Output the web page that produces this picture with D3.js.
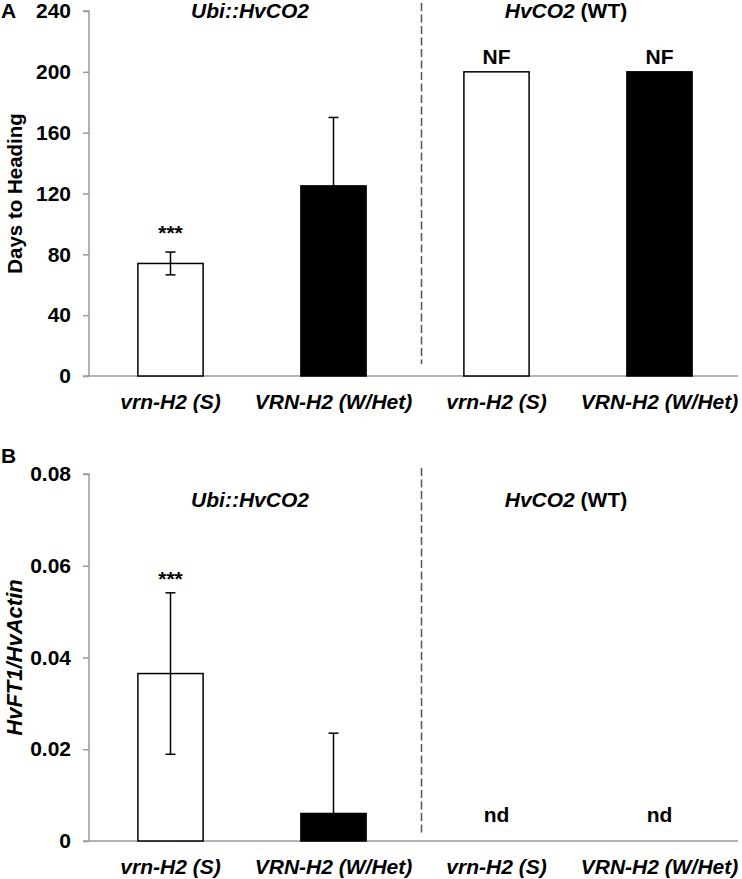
<!DOCTYPE html>
<html>
<head>
<meta charset="utf-8">
<script src="https://cdn.jsdelivr.net/npm/d3@7"></script>
<style>
  html, body { margin: 0; padding: 0; background: #fff; }
  svg { display: block; }
  text { font-family: Arial, "Liberation Sans", sans-serif; font-weight: bold; fill: #000; }
</style>
</head>
<body>
<svg id="chart" width="742" height="879"></svg>
<script>
// ---------- data ----------
const categories = ["vrn-H2 (S)", "VRN-H2 (W/Het)", "vrn-H2 (S)", "VRN-H2 (W/Het)"];
const barFills = ["white", "black", "white", "black"];
const groupTitles = ["Ubi::HvCO2", "HvCO2 (WT)"];

// Panel A: days to heading
const daysValues    = [74, 125, 200, 200];
const daysErrPlus   = [7.5, 45, 0, 0];
const daysErrMinus  = [7.5, 0, 0, 0];
const daysTicks     = [0, 40, 80, 120, 160, 200, 240];
const daysNotes     = ["***", "", "NF", "NF"];

// Panel B: HvFT1/HvActin expression
const ftValues      = [0.0365, 0.006, 0, 0];
const ftErrPlus     = [0.0176, 0.0175, 0, 0];
const ftErrMinus    = [0.0176, 0, 0, 0];
const ftTicks       = [0, 0.02, 0.04, 0.06, 0.08];
const ftNotes       = ["***", "", "nd", "nd"];

// ---------- drawing ----------
const svg = d3.select("#chart");
const FS = 21;
const axisColor = "#9a9a9a";

const x = d3.scaleBand().domain(d3.range(categories.length)).range([89, 741]).padding(0);
const barW = x.bandwidth() * 0.4;
const cx = i => x(i) + x.bandwidth() / 2;

function panel(cfg) {
  const g = svg.append("g");
  const y = d3.scaleLinear().domain(cfg.domain).range([cfg.bottom, cfg.top]);

  // y axis
  const yAxis = d3.axisLeft(y).tickValues(cfg.ticks).tickSize(6).tickPadding(12)
    .tickFormat(cfg.fmt);
  const ya = g.append("g").attr("transform", "translate(89,0)").call(yAxis);
  ya.attr("font-size", null).attr("font-family", null);
  ya.select(".domain").attr("stroke", axisColor).attr("stroke-width", 1.5)
    .attr("d", `M-6,${cfg.top}H0V${cfg.bottom}`);
  ya.selectAll(".tick line").attr("stroke", axisColor).attr("stroke-width", 1.5);
  ya.selectAll(".tick text").attr("font-size", FS).attr("font-weight", "bold")
    .attr("font-family", 'Arial, "Liberation Sans", sans-serif').attr("fill", "#000");

  // x axis line
  g.append("line").attr("x1", 83).attr("x2", 738)
    .attr("y1", cfg.bottom).attr("y2", cfg.bottom)
    .attr("stroke", axisColor).attr("stroke-width", 1.5);

  // divider
  g.append("line").attr("x1", 421.5).attr("x2", 421.5)
    .attr("y1", cfg.dashTop).attr("y2", cfg.dashBottom)
    .attr("stroke", "#555").attr("stroke-width", 1.5).attr("stroke-dasharray", "8,3.5");

  // bars
  g.selectAll("rect.bar").data(cfg.values).join("rect")
    .attr("class", "bar")
    .attr("x", (d, i) => cx(i) - barW / 2)
    .attr("width", barW)
    .attr("y", d => y(d))
    .attr("height", d => y(0) - y(d))
    .attr("fill", (d, i) => barFills[i])
    .attr("stroke", (d, i) => d > 0 ? "#000" : "none")
    .attr("stroke-width", 1.5);

  // error bars
  cfg.values.forEach((v, i) => {
    const hi = v + cfg.errPlus[i], lo = v - cfg.errMinus[i];
    if (cfg.errPlus[i] === 0 && cfg.errMinus[i] === 0) return;
    const eg = g.append("g").attr("stroke", "#000").attr("stroke-width", 1.5);
    eg.append("line").attr("x1", cx(i)).attr("x2", cx(i)).attr("y1", y(hi)).attr("y2", y(lo));
    if (cfg.errPlus[i] > 0)
      eg.append("line").attr("x1", cx(i) - 5).attr("x2", cx(i) + 5).attr("y1", y(hi)).attr("y2", y(hi));
    if (cfg.errMinus[i] > 0)
      eg.append("line").attr("x1", cx(i) - 5).attr("x2", cx(i) + 5).attr("y1", y(lo)).attr("y2", y(lo));
  });

  // annotations
  cfg.notes.forEach((n, i) => {
    if (!n) return;
    let yy;
    if (n === "***") yy = y(cfg.values[i] + cfg.errPlus[i]) - cfg.starGap;
    else if (n === "NF") yy = y(cfg.values[i]) - 8;
    else yy = cfg.bottom - 19;
    g.append("text").attr("x", cx(i)).attr("y", yy).attr("text-anchor", "middle")
      .attr("font-size", FS).text(n);
  });

  // category labels
  categories.forEach((c, i) => {
    g.append("text").attr("x", cx(i)).attr("y", cfg.bottom + 32.5)
      .attr("text-anchor", "middle").attr("font-size", FS).attr("font-style", "italic").text(c);
  });

  // group titles
  g.append("text").attr("x", (cx(0) + cx(1)) / 2 - 2).attr("y", cfg.titleY)
    .attr("text-anchor", "middle").attr("font-size", FS).attr("font-style", "italic")
    .text(groupTitles[0]);
  const parts = groupTitles[1].split(" ");
  const t2 = g.append("text").attr("x", (cx(2) + cx(3)) / 2 - 12).attr("y", cfg.titleY)
    .attr("text-anchor", "middle").attr("font-size", FS);
  t2.append("tspan").attr("font-style", "italic").text(parts[0]);
  t2.append("tspan").text(" " + parts.slice(1).join(" "));

  // y title
  const yt = g.append("text")
    .attr("transform", `translate(22,${(cfg.top + cfg.bottom) / 2}) rotate(-90)`)
    .attr("text-anchor", "middle").attr("font-size", cfg.yTitleSize);
  if (cfg.yItalic) yt.attr("font-style", "italic");
  yt.text(cfg.yTitle);

  // panel letter
  g.append("text").attr("x", 1).attr("y", cfg.letterY).attr("font-size", FS).text(cfg.letter);
}

panel({
  domain: [0, 240], top: 11, bottom: 376, ticks: daysTicks, fmt: d3.format("d"),
  values: daysValues, errPlus: daysErrPlus, errMinus: daysErrMinus, notes: daysNotes,
  starGap: 12.5, dashTop: 3, dashBottom: 364, titleY: 18,
  yTitle: "Days to Heading", yTitleSize: 20.5, yItalic: false, letter: "A", letterY: 18
});

panel({
  domain: [0, 0.08], top: 474, bottom: 841, ticks: ftTicks,
  fmt: d => d === 0 ? "0" : d3.format(".2f")(d),
  values: ftValues, errPlus: ftErrPlus, errMinus: ftErrMinus, notes: ftNotes,
  starGap: 7, dashTop: 468, dashBottom: 836, titleY: 507,
  yTitle: "HvFT1/HvActin", yTitleSize: 22, yItalic: true, letter: "B", letterY: 463
});
</script>
</body>
</html>
